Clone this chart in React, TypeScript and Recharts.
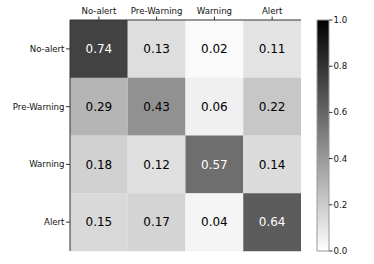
import React from 'react';
import { BarChart, Bar, XAxis, YAxis, Cell, LabelList } from 'recharts';

const rowLabels = ['No-alert', 'Pre-Warning', 'Warning', 'Alert'];
const colLabels = ['No-alert', 'Pre-Warning', 'Warning', 'Alert'];
const noAlertRow = [0.74, 0.13, 0.02, 0.11];
const preWarningRow = [0.29, 0.43, 0.06, 0.22];
const warningRow = [0.18, 0.12, 0.57, 0.14];
const alertRow = [0.15, 0.17, 0.04, 0.64];
const colorbarTicks = [0, 0.2, 0.4, 0.6, 0.8, 1.0];
const colTicks = [0.5, 1.5, 2.5, 3.5];

const matrix = [noAlertRow, preWarningRow, warningRow, alertRow];

const table = rowLabels.map((r, i) => {
  const o: any = { row: r };
  matrix[i].forEach((v, j) => {
    o['u' + j] = 1;
    o['v' + j] = v;
  });
  return o;
});

const grey = (v: number) => {
  const g = Math.round(255 * (1 - v));
  return `rgb(${g},${g},${g})`;
};

const FONT = 'DejaVu Sans';
const tickStyle = { fontSize: 8.6, fill: '#111', fontFamily: FONT };

const cellLabel = (props: any) => {
  const vb = props.viewBox || {};
  const x = props.x ?? vb.x;
  const y = props.y ?? vb.y;
  const w = props.width ?? vb.width;
  const h = props.height ?? vb.height;
  const v = Number(props.value);
  return (
    <text
      x={x + w / 2}
      y={y + h / 2}
      textAnchor="middle"
      dominantBaseline="central"
      fontSize={12}
      fontFamily={FONT}
      fill={v >= 0.5 ? '#ffffff' : '#000000'}
    >
      {v.toFixed(2)}
    </text>
  );
};

const cbarData = [{ name: 'cb', value: 1 }];

export default function App() {
  return (
    <div style={{ position: 'absolute', left: 0, top: 0, width: 374, height: 264, background: '#fff' }}>
      <svg width={0} height={0} style={{ position: 'absolute' }}>
        <defs>
          <linearGradient id="greysBar" x1="0" y1="0" x2="0" y2="1">
            <stop offset="0%" stopColor="#000000" />
            <stop offset="100%" stopColor="#ffffff" />
          </linearGradient>
        </defs>
      </svg>
      <div style={{ position: 'absolute', left: 0, top: 0 }}>
        <BarChart
          width={310}
          height={264}
          data={table}
          layout="vertical"
          barCategoryGap={0}
          margin={{ top: 0, right: 9, bottom: 13, left: 0 }}
        >
          <XAxis
            type="number"
            domain={[0, 4]}
            ticks={colTicks}
            orientation="top"
            height={20}
            tickFormatter={(v: number) => colLabels[Math.floor(v)]}
            tick={tickStyle}
            tickSize={3.5}
            tickMargin={2.5}
            axisLine={{ stroke: '#333' }}
            tickLine={{ stroke: '#333' }}
            allowDataOverflow
          />
          <XAxis
            xAxisId="b"
            type="number"
            domain={[0, 4]}
            orientation="bottom"
            height={0}
            tick={false}
            tickLine={false}
            axisLine={{ stroke: '#333' }}
          />
          <YAxis
            type="category"
            dataKey="row"
            width={70}
            tick={tickStyle}
            tickSize={4}
            tickMargin={1.5}
            axisLine={{ stroke: '#333' }}
            tickLine={{ stroke: '#333' }}
          />
          <YAxis
            yAxisId="r"
            type="category"
            dataKey="row"
            orientation="right"
            width={0}
            tick={false}
            tickLine={false}
            axisLine={{ stroke: '#333' }}
          />
          {colLabels.map((c, j) => (
            <Bar key={c} dataKey={'u' + j} stackId="m" isAnimationActive={false}>
              {table.map((r: any, i: number) => (
                <Cell key={i} fill={grey(r['v' + j])} />
              ))}
              <LabelList dataKey={'v' + j} content={cellLabel} />
            </Bar>
          ))}
        </BarChart>
      </div>
      <div style={{ position: 'absolute', left: 310, top: 0 }}>
        <BarChart
          width={64}
          height={264}
          data={cbarData}
          barCategoryGap={0}
          margin={{ top: 20, right: 0, bottom: 13, left: 7 }}
        >
          <XAxis dataKey="name" hide />
          <YAxis
            orientation="right"
            type="number"
            domain={[0, 1]}
            ticks={colorbarTicks}
            width={45}
            tickFormatter={(v: number) => v.toFixed(1)}
            tick={tickStyle}
            tickSize={3.5}
            tickMargin={1}
            axisLine={false}
            tickLine={{ stroke: '#333' }}
          />
          <Bar dataKey="value" fill="url(#greysBar)" stroke="#999" strokeWidth={1} isAnimationActive={false} />
        </BarChart>
      </div>
    </div>
  );
}
